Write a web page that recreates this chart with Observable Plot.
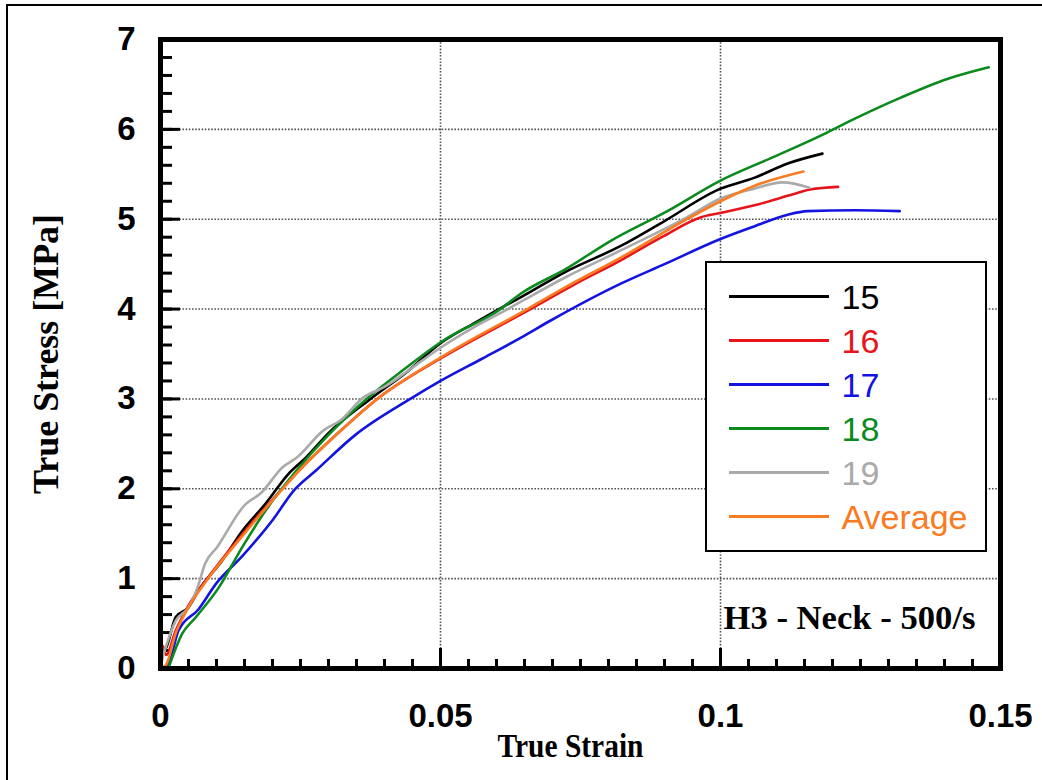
<!DOCTYPE html>
<html>
<head>
<meta charset="utf-8">
<script src="https://cdn.jsdelivr.net/npm/d3@7"></script>
<script src="https://cdn.jsdelivr.net/npm/@observablehq/plot@0.6"></script>
<style>
  body { margin: 0; background: #fff; }
  #wrap { position: relative; width: 1042px; height: 780px; overflow: hidden; background: #fff; }
  #outer { position: absolute; left: 6px; top: 4px; width: 1200px; height: 1000px; border-left: 2px solid #000; border-top: 2px solid #000; }
  #chart { position: absolute; left: 0; top: 0; }
  #legend { position: absolute; left: 705px; top: 261px; width: 282px; height: 291px; box-sizing: border-box;
            border: 2.5px solid #000; background: #fff; font-family: "Liberation Sans", Arial, sans-serif; font-size: 34px; }
  .lline { position: absolute; height: 3px; width: 100px; left: 21.5px; }
  .ltext { position: absolute; left: 134.5px; line-height: 34px; white-space: nowrap; }
</style>
</head>
<body>
<div id="wrap">
  <div id="outer"></div>
  <div id="chart"></div>
  <div id="legend"></div>
</div>
<script>
// ---- Data ----
const seriesNames = ["15", "16", "17", "18", "19", "Average"];
const seriesColors = ["#000000", "#e8141b", "#1414e0", "#0b8a1e", "#aaaaaa", "#f97b22"];

const strain15 = [0, 0.0005, 0.001, 0.0027, 0.005, 0.0068, 0.011, 0.0146, 0.0187, 0.0229, 0.026, 0.03, 0.0375, 0.044, 0.05, 0.0562, 0.061, 0.0643, 0.0725, 0.0821, 0.09, 0.1, 0.106, 0.112, 0.1182];
const stress15 = [0, 0.2, 0.23, 0.57, 0.68, 0.87, 1.2, 1.53, 1.83, 2.17, 2.35, 2.62, 3.0, 3.3, 3.62, 3.85, 4.02, 4.13, 4.42, 4.7, 4.98, 5.34, 5.46, 5.62, 5.73];

const strain16 = [0, 0.0004, 0.001, 0.0027, 0.005, 0.0086, 0.0139, 0.02, 0.025, 0.0317, 0.0387, 0.05, 0.0655, 0.0738, 0.0821, 0.0895, 0.0964, 0.1, 0.107, 0.112, 0.116, 0.121];
const stress16 = [0, 0.25, 0.15, 0.42, 0.7, 1.02, 1.44, 1.88, 2.22, 2.62, 3.0, 3.45, 3.98, 4.27, 4.54, 4.8, 5.02, 5.07, 5.17, 5.26, 5.33, 5.36];

const strain17 = [0, 0.0014, 0.0032, 0.0068, 0.01, 0.0146, 0.02, 0.0238, 0.0277, 0.0348, 0.0446, 0.05, 0.0575, 0.0643, 0.0696, 0.0821, 0.09, 0.1, 0.106, 0.112, 0.1155, 0.124, 0.132];
const stress17 = [0, 0.05, 0.42, 0.66, 0.95, 1.25, 1.65, 1.98, 2.2, 2.6, 3.0, 3.2, 3.45, 3.68, 3.87, 4.28, 4.5, 4.78, 4.92, 5.05, 5.09, 5.1, 5.09];

const strain18 = [0.0014, 0.0039, 0.0063, 0.0104, 0.0146, 0.0188, 0.0245, 0.03, 0.037, 0.0435, 0.0505, 0.0607, 0.0643, 0.0725, 0.0804, 0.0905, 0.1, 0.109, 0.1179, 0.1227, 0.1321, 0.1405, 0.1479];
const stress18 = [0, 0.39, 0.57, 0.9, 1.35, 1.76, 2.22, 2.6, 3.01, 3.33, 3.65, 4.0, 4.17, 4.45, 4.76, 5.09, 5.43, 5.68, 5.93, 6.08, 6.35, 6.56, 6.69];

const strain19 = [0, 0.0005, 0.0009, 0.0027, 0.005, 0.0066, 0.008, 0.0101, 0.0152, 0.0179, 0.0218, 0.0244, 0.0291, 0.0321, 0.0363, 0.0399, 0.045, 0.05, 0.056, 0.062, 0.0643, 0.0725, 0.0821, 0.094, 0.1, 0.106, 0.1111, 0.1159];
const stress19 = [0, 0.15, 0.23, 0.53, 0.68, 0.9, 1.17, 1.35, 1.83, 1.95, 2.24, 2.35, 2.65, 2.76, 3.02, 3.13, 3.35, 3.57, 3.8, 4.0, 4.08, 4.36, 4.65, 5.02, 5.23, 5.34, 5.41, 5.35];

const strainAvg = [0, 0.001, 0.0027, 0.005, 0.0086, 0.0139, 0.02, 0.025, 0.0317, 0.0387, 0.05, 0.0655, 0.0725, 0.0821, 0.094, 0.1, 0.106, 0.1148];
const stressAvg = [0, 0.04, 0.39, 0.68, 1.01, 1.42, 1.87, 2.22, 2.62, 3.0, 3.46, 4.0, 4.25, 4.57, 5.0, 5.2, 5.37, 5.53];

const xTicks = [0, 0.05, 0.1, 0.15];
const xTickLabels = ["0", "0.05", "0.1", "0.15"];
const yTicks = [0, 1, 2, 3, 4, 5, 6, 7];
const yTickLabels = ["0", "1", "2", "3", "4", "5", "6", "7"];
const xGrid = [0.05, 0.1];
const yGrid = [1, 2, 3, 4, 5, 6];
const xMinor = d3.range(1, 30).map(i => +(i * 0.005).toFixed(3));
const yMinor = d3.range(1, 35).map(i => +(i * 0.2).toFixed(1));

const xLabel = "True Strain";
const yLabel = "True Stress [MPa]";
const note = "H3 - Neck - 500/s";

// ---- Build table ----
const strains = [strain15, strain16, strain17, strain18, strain19, strainAvg];
const stresses = [stress15, stress16, stress17, stress18, stress19, stressAvg];
const data = [];
seriesNames.forEach((name, k) => {
  strains[k].forEach((s, i) => data.push({series: name, strain: s, stress: stresses[k][i]}));
});

const W = 1042, H = 780, mT = 39, mR = 42, mB = 112, mL = 160;
const frameW = W - mL - mR, frameH = H - mT - mB;

const serif = '"Liberation Serif", "Times New Roman", serif';

const plot = Plot.plot({
  width: W, height: H,
  marginTop: mT, marginRight: mR, marginBottom: mB, marginLeft: mL,
  style: {fontFamily: '"Liberation Sans", Arial, sans-serif', fontSize: "33px", fontWeight: "bold", color: "#000", background: "transparent", overflow: "visible"},
  x: {domain: [0, 0.15], ticks: xTicks, tickFormat: d => xTickLabels[xTicks.indexOf(d)] ?? String(d), tickSize: 0, tickPadding: 35, label: null},
  y: {domain: [0, 7], ticks: yTicks, tickFormat: d => yTickLabels[yTicks.indexOf(d)] ?? String(d), tickSize: 0, tickPadding: 25, label: null},
  color: {domain: seriesNames, range: seriesColors},
  marks: [
    Plot.ruleX(xGrid, {x: d => d, stroke: "#555", strokeWidth: 1.6, strokeDasharray: "1.6,1.6"}),
    Plot.ruleY(yGrid, {y: d => d, stroke: "#555", strokeWidth: 1.6, strokeDasharray: "1.6,1.6"}),
    Plot.ruleX(xMinor, {x: d => d, insetTop: frameH - 9, stroke: "#000", strokeWidth: 3}),
    Plot.ruleX(xTicks, {x: d => d, insetTop: frameH - 20, stroke: "#000", strokeWidth: 3}),
    Plot.ruleY(yMinor, {y: d => d, insetRight: frameW - 12, stroke: "#000", strokeWidth: 3}),
    Plot.ruleY(yTicks, {y: d => d, insetRight: frameW - 20, stroke: "#000", strokeWidth: 3}),
    Plot.line(data, {x: "strain", y: "stress", z: "series", stroke: "series", strokeWidth: 2.6, curve: "monotone-x"}),
    Plot.text([note], {frameAnchor: "bottom-right", textAnchor: "end", lineAnchor: "middle", dx: -25, dy: -50,
      fontFamily: serif, fontSize: 34, fontWeight: "bold", fill: "#000"}),
    Plot.text([xLabel], {frameAnchor: "bottom", textAnchor: "middle", lineAnchor: "middle", dx: -10, dy: 78,
      fontFamily: serif, fontSize: 33, fontWeight: "bold", fill: "#000"}),
    Plot.text([yLabel], {frameAnchor: "left", textAnchor: "middle", lineAnchor: "middle", rotate: -90, dx: -114,
      fontFamily: serif, fontSize: 35, fontWeight: "bold", fill: "#000"}),
    Plot.frame({stroke: "#000", strokeWidth: 5})
  ]
});
document.getElementById("chart").appendChild(plot);

// stretch the serif titles to the reference's proportions
const fit = {[xLabel]: 146, [yLabel]: 280, [note]: 252};
d3.select(plot).selectAll("text").each(function() {
  const t = this.textContent;
  if (fit[t]) { this.setAttribute("textLength", fit[t]); this.setAttribute("lengthAdjust", "spacingAndGlyphs"); }
});

// ---- Legend (inside the plot area, as in the reference) ----
const legend = document.getElementById("legend");
seriesNames.forEach((name, i) => {
  const cy = 33.5 + i * 44;
  const line = document.createElement("div");
  line.className = "lline";
  line.style.top = (cy - 1.5) + "px";
  line.style.background = seriesColors[i];
  legend.appendChild(line);
  const t = document.createElement("div");
  t.className = "ltext";
  t.style.top = (cy - 16.5) + "px";
  t.style.color = seriesColors[i];
  t.textContent = name;
  legend.appendChild(t);
});
</script>
</body>
</html>
